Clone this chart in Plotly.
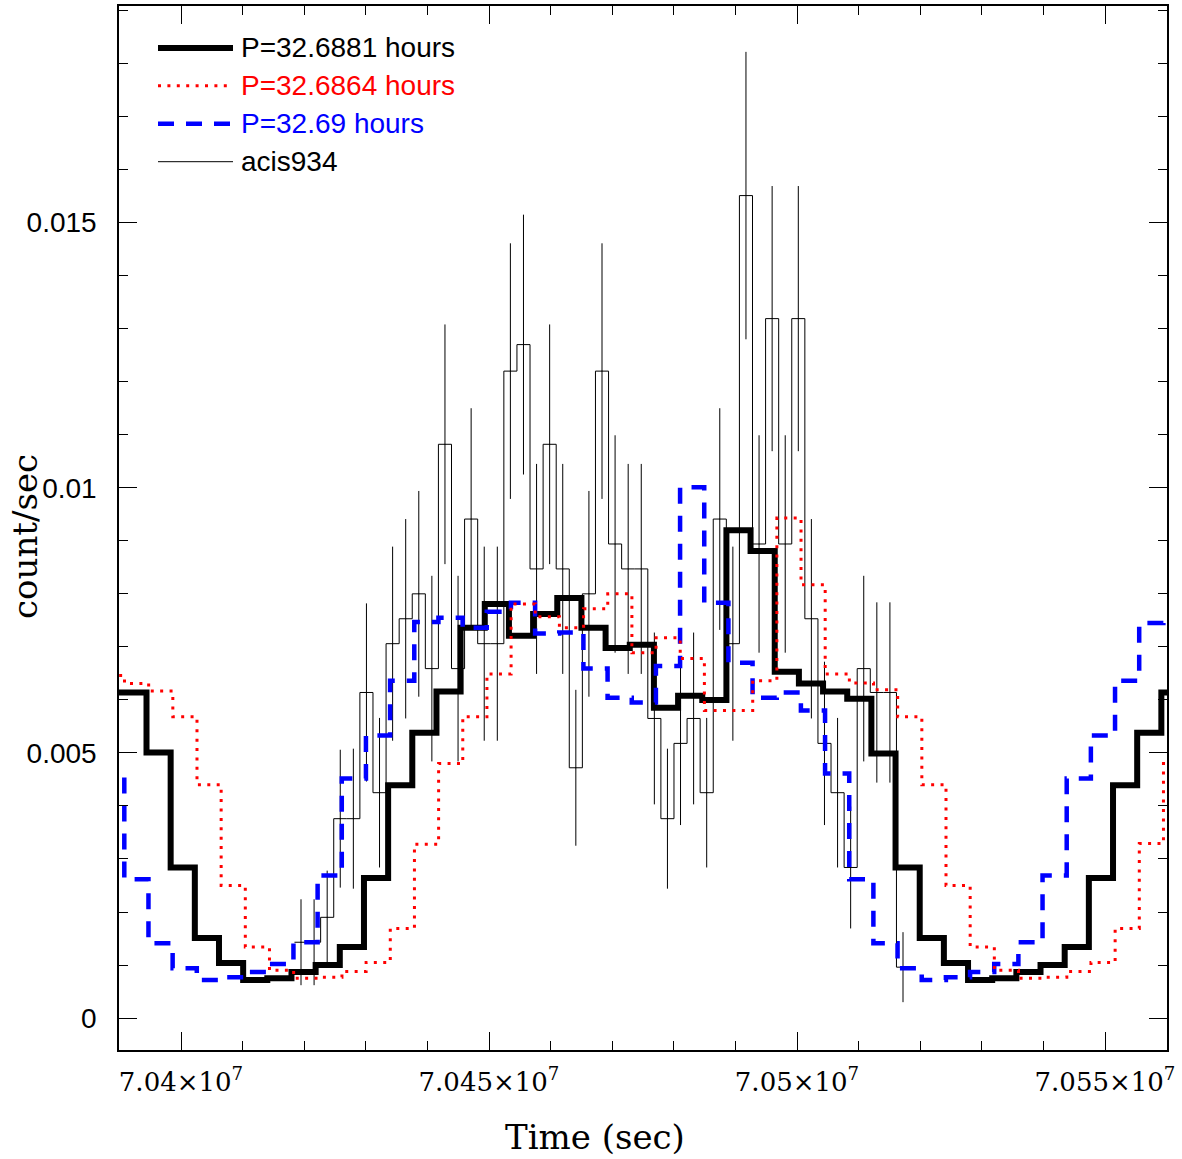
import plotly.graph_objects as go

# ---------------- data ----------------
# folded model light curves (30 phase bins per period), periods in hours
P_black = 32.6881
P_red = 32.6864
P_blue = 32.69
NBIN = 30

black_t0 = 70386554.0   # start time (s) of first plotted bin
black_vals = [0.00614, 0.00614, 0.00501, 0.00284, 0.00151, 0.00104, 0.00072, 0.00075,
              0.00087, 0.00100, 0.00134, 0.00264, 0.00439, 0.00538, 0.00616, 0.00736,
              0.00781, 0.00721, 0.00762, 0.00792, 0.00736, 0.00698, 0.00704, 0.00585,
              0.00608, 0.00600, 0.00920, 0.00881, 0.00653, 0.00631, 0.00616, 0.00602,
              0.00499, 0.00284, 0.00151, 0.00104, 0.00072, 0.00075, 0.00087, 0.00100,
              0.00134, 0.00264, 0.00439, 0.00538, 0.00614]

red_t0 = 70386906.0
red_vals = [0.00646, 0.00631, 0.00617, 0.00568, 0.00440, 0.00250, 0.00134, 0.00090,
            0.00075, 0.00077, 0.00088, 0.00105, 0.00169, 0.00328, 0.00480, 0.00568,
            0.00649, 0.00781, 0.00757, 0.00736, 0.00772, 0.00800, 0.00689, 0.00717,
            0.00678, 0.00580, 0.00580, 0.00636, 0.00943, 0.00817, 0.00649, 0.00632,
            0.00619, 0.00568, 0.00440, 0.00250, 0.00134, 0.00090, 0.00075, 0.00077,
            0.00088, 0.00105, 0.00169, 0.00329, 0.00480]

blue_t0 = 70386872.0
blue_vals = [0.00461, 0.00262, 0.00141, 0.00094, 0.00072, 0.00077, 0.00087, 0.00102,
             0.00143, 0.00269, 0.00452, 0.00533, 0.00636, 0.00747, 0.00755, 0.00736,
             0.00766, 0.00783, 0.00725, 0.00727, 0.00659, 0.00604, 0.00595, 0.00664,
             0.01001, 0.00783, 0.00670, 0.00604, 0.00614, 0.00580, 0.00461, 0.00262,
             0.00141, 0.00094, 0.00072, 0.00077, 0.00087, 0.00102, 0.00143, 0.00269,
             0.00452, 0.00533, 0.00636, 0.00745, 0.00755]

# observed light curve acis934
acis_c0 = 70419481.0    # centre of first bin (s)
acis_dt = 2124.5        # bin size (s)
acis_rate = [0.00143, 0.00143, 0.00190, 0.00376, 0.00376, 0.00614, 0.00425, 0.00706,
             0.00753, 0.00800, 0.00659, 0.01082, 0.00659, 0.00941, 0.00706, 0.00706,
             0.01220, 0.01270, 0.00847, 0.01082, 0.00847, 0.00472, 0.00800, 0.01220,
             0.00894, 0.00847, 0.00847, 0.00565, 0.00376, 0.00518, 0.00565, 0.00425,
             0.00941, 0.00706, 0.01551, 0.00894, 0.01319, 0.00894, 0.01319, 0.00753,
             0.00518, 0.00425, 0.00284, 0.00659, 0.00614, 0.00614, 0.00096]
acis_err = [0.00081, 0.00081, 0.00088, 0.00130, 0.00132, 0.00168, 0.00141, 0.00183,
            0.00188, 0.00194, 0.00175, 0.00226, 0.00175, 0.00209, 0.00183, 0.00183,
            0.00241, 0.00245, 0.00198, 0.00226, 0.00198, 0.00147, 0.00194, 0.00241,
            0.00205, 0.00198, 0.00198, 0.00162, 0.00132, 0.00154, 0.00162, 0.00141,
            0.00209, 0.00183, 0.00271, 0.00205, 0.00250, 0.00205, 0.00250, 0.00188,
            0.00154, 0.00141, 0.00115, 0.00175, 0.00170, 0.00170, 0.00066]

x_tickvals = [7.04e7, 7.045e7, 7.05e7, 7.055e7]
x_ticktext = ["7.04×10<sup>7</sup>", "7.045×10<sup>7</sup>", "7.05×10<sup>7</sup>", "7.055×10<sup>7</sup>"]
y_tickvals = [0, 0.005, 0.01, 0.015]
y_ticktext = ["0", "0.005", "0.01", "0.015"]

legend_labels = ["P=32.6881 hours", "P=32.6864 hours", "P=32.69 hours", "acis934"]


def step_xy(t0, period_h, vals):
    w = period_h * 3600.0 / NBIN
    xs = [t0 + i * w for i in range(len(vals) + 1)]
    ys = list(vals) + [vals[-1]]
    return xs, ys


fig = go.Figure()

# observed histogram + error bars
centers = [acis_c0 + i * acis_dt for i in range(len(acis_rate))]
hx = [c - acis_dt / 2 for c in centers] + [centers[-1] + acis_dt / 2]
hy = list(acis_rate) + [acis_rate[-1]]
fig.add_trace(go.Scatter(x=hx, y=hy, mode="lines", line=dict(color="black", width=1, shape="hv"),
                         showlegend=False, hoverinfo="skip"))
fig.add_trace(go.Scatter(x=centers, y=acis_rate, mode="markers",
                         marker=dict(size=1, color="black"),
                         error_y=dict(type="data", array=acis_err, width=0, thickness=1, color="black"),
                         showlegend=False))

bx, by = step_xy(black_t0, P_black, black_vals)
fig.add_trace(go.Scatter(x=bx, y=by, mode="lines", line=dict(color="black", width=6, shape="hv"),
                         showlegend=False))
ux, uy = step_xy(blue_t0, P_blue, blue_vals)
fig.add_trace(go.Scatter(x=ux, y=uy, mode="lines",
                         line=dict(color="#0000ff", width=4.5, shape="hv", dash="16px,12px"),
                         showlegend=False))
rx, ry = step_xy(red_t0, P_red, red_vals)
fig.add_trace(go.Scatter(x=rx, y=ry, mode="lines",
                         line=dict(color="#ff0000", width=3, shape="hv", dash="3px,6.4px"),
                         showlegend=False))

# ---------------- layout ----------------
W, H = 1182, 1159
ML, MR, MT, MB = 119, 15, 4, 109
pw = W - ML - MR
ph = H - MT - MB


def px(x):
    return (x - ML) / pw


def py(y):
    return (H - MB - y) / ph


tick_common = dict(showline=True, linecolor="black", linewidth=1.5, mirror="ticks",
                   ticks="inside", ticklen=18, tickwidth=1, tickcolor="black",
                   showgrid=False, zeroline=False)

fig.update_layout(
    width=W, height=H, autosize=False,
    margin=dict(l=ML, r=MR, t=MT, b=MB, pad=0),
    paper_bgcolor="white", plot_bgcolor="white",
    showlegend=False,
    xaxis=dict(range=[70389935, 70560065], tickmode="array", tickvals=x_tickvals,
               ticktext=x_ticktext, tickfont=dict(family="DejaVu Serif", size=26, color="black"),
               ticklabelstandoff=8,
               minor=dict(tickmode="linear", tick0=7.04e7, dtick=1e4, ticks="inside",
                          ticklen=9, tickwidth=1, tickcolor="black", showgrid=False),
               **tick_common),
    yaxis=dict(range=[-0.000602, 0.019085], tickmode="array", tickvals=y_tickvals,
               ticktext=y_ticktext, tickfont=dict(family="Liberation Sans", size=28, color="black"),
               ticklabelstandoff=15,
               minor=dict(tickmode="linear", tick0=0, dtick=0.001, ticks="inside",
                          ticklen=9, tickwidth=1, tickcolor="black", showgrid=False),
               **tick_common),
)

# axis titles
fig.add_annotation(x=px(595), y=py(1137), xref="paper", yref="paper", text="Time (sec)",
                   showarrow=False, font=dict(family="DejaVu Serif", size=34, color="black"),
                   xanchor="center", yanchor="middle")
fig.add_annotation(x=px(25), y=py(536), xref="paper", yref="paper", text="count/sec",
                   showarrow=False, textangle=-90,
                   font=dict(family="DejaVu Serif", size=34, color="black"),
                   xanchor="center", yanchor="middle")

# legend (drawn manually)
leg_styles = [dict(color="black", width=6, dash="solid"),
              dict(color="#ff0000", width=3, dash="3px,6.4px"),
              dict(color="#0000ff", width=4.5, dash="16px,12px"),
              dict(color="black", width=1, dash="solid")]
leg_colors = ["black", "#ff0000", "#0000ff", "black"]
leg_rows = [46, 84, 122, 160]
for lab, st, col, yy in zip(legend_labels, leg_styles, leg_colors, leg_rows):
    fig.add_shape(type="line", xref="paper", yref="paper", x0=px(158), x1=px(233),
                  y0=py(yy), y1=py(yy), line=st)
    fig.add_annotation(x=px(239), y=py(yy), xref="paper", yref="paper", text=lab,
                       showarrow=False, xanchor="left", yanchor="middle",
                       font=dict(family="Liberation Sans", size=28, color=col))

fig.write_html("out.html")
